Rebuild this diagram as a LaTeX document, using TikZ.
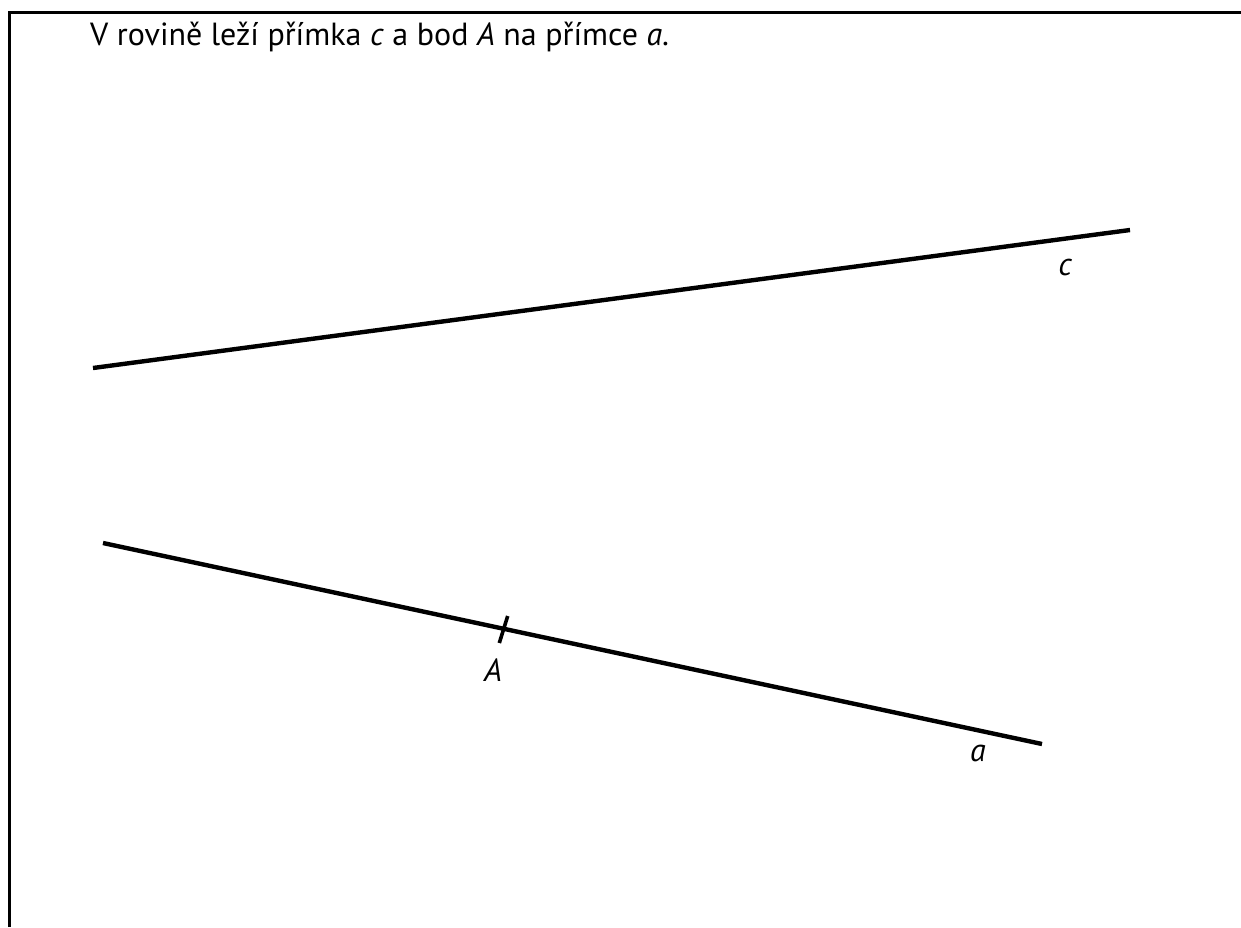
\documentclass[tikz,border=0pt]{standalone}
\usepackage{fontspec}
\setmainfont{PT Sans}
\usetikzlibrary{positioning}

\begin{document}
\begin{tikzpicture}[
    x=1pt, y=-1pt,
    font=\fontsize{32}{38}\selectfont,
    frame/.style={line width=3.6pt, black},
    primka/.style={line width=4.4pt, black},
    tick/.style={line width=3.6pt, black},
    label/.style={font=\fontsize{32}{38}\selectfont\itshape}
]
\useasboundingbox (0,0) rectangle (1241,927);

\coordinate (f1) at (9.5,927);
\coordinate (f2) at (9.5,12.5);
\coordinate (f3) at (1241,12.5);
\draw[frame] (f1) -- (f2) -- (f3);

\node[anchor=base west, inner sep=0pt] (zadani) at (90,45) {V rovině leží přímka \textit{c} a bod \textit{A} na přímce \textit{a}.};

\coordinate (c1) at (93,368);
\coordinate (c2) at (1130,230);
\coordinate (a1) at (103,543);
\coordinate (a2) at (1042,744);
\coordinate (t1) at (507.7,616);
\coordinate (t2) at (499.3,643);

\draw[primka] (c1) -- (c2);
\draw[primka] (a1) -- (a2);
\draw[tick] (t1) -- (t2);

\node[label] (lc) at (1065,267) {c};
\node[label] (lA) at (493,670) {A};
\node[label] (la) at (978,753) {a};

\end{tikzpicture}
\end{document}
